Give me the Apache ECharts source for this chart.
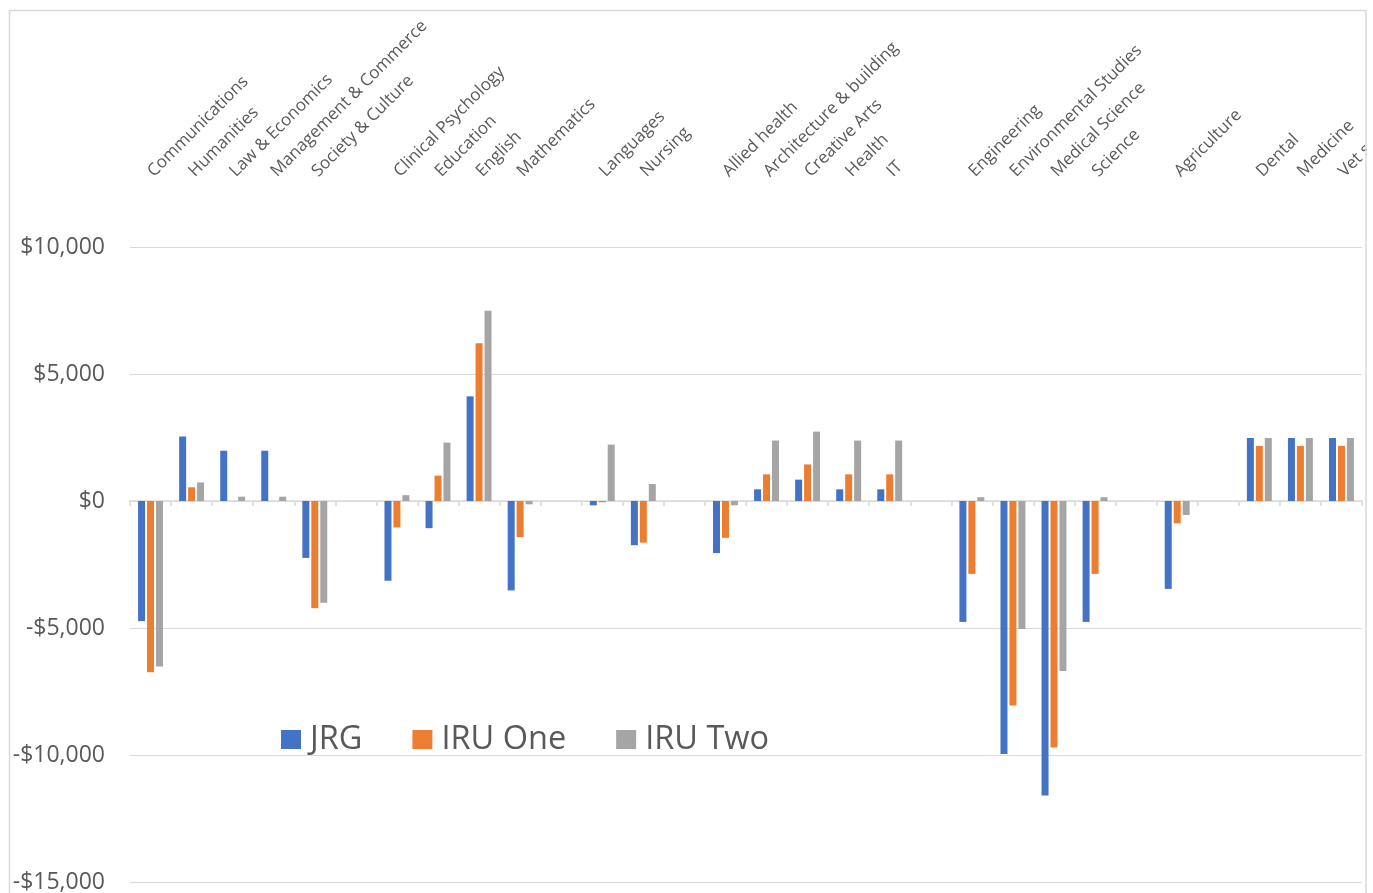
<!DOCTYPE html>
<html>
<head>
<meta charset="utf-8">
<script src="https://cdn.jsdelivr.net/npm/echarts@6/dist/echarts.min.js"></script>
<style>
html,body{margin:0;padding:0;background:#fff;overflow:hidden;}
#chart{position:absolute;left:0;top:0;width:1367px;height:893px;}
</style>
</head>
<body>
<div id="chart"></div>
<script>
const categories = [
  'Communications','Humanities','Law & Economics','Management & Commerce','Society & Culture','',
  'Clinical Psychology','Education','English','Mathematics','',
  'Languages','Nursing','',
  'Allied health','Architecture & building','Creative Arts','Health','IT','',
  'Engineering','Environmental Studies','Medical Science','Science','',
  'Agriculture','',
  'Dental','Medicine','Vet science'
];
const jrg = [
  -4730, 2540, 1980, 1980, -2240, null,
  -3140, -1070, 4120, -3520, null,
  -170, -1740, null,
  -2050, 460, 840, 460, 460, null,
  -4760, -9960, -11590, -4760, null,
  -3460, null,
  2480, 2480, 2480
];
const iruOne = [
  -6740, 540, 0, 0, -4220, null,
  -1040, 1000, 6210, -1420, null,
  -50, -1640, null,
  -1450, 1050, 1440, 1050, 1050, null,
  -2870, -8050, -9700, -2870, null,
  -880, null,
  2170, 2170, 2170
];
const iruTwo = [
  -6520, 730, 170, 170, -4010, null,
  230, 2300, 7490, -130, null,
  2220, 670, null,
  -170, 2380, 2730, 2380, 2380, null,
  150, -5040, -6690, 150, null,
  -550, null,
  2480, 2480, 2480
];
const yTicks = { min: -15000, max: 10000, interval: 5000 };

const FONT = '"Open Sans", "DejaVu Sans", sans-serif';
const TXT = '#595959';
const GRID = '#d9d9d9';

function money(v) {
  const s = Math.abs(v).toLocaleString('en-US');
  return (v < 0 ? '-$' : '$') + s;
}

const chart = echarts.init(document.getElementById('chart'), null, { renderer: 'canvas' });
const barStyle = { barWidth: 7, barGap: '28%' };
chart.setOption({
  animation: false,
  backgroundColor: '#fff',
  textStyle: { fontFamily: FONT },
  graphic: [{
    type: 'rect',
    shape: { x: 9.5, y: 10.5, width: 1356.5, height: 920 },
    style: { fill: 'none', stroke: GRID, lineWidth: 1.5 },
    z: 100
  }],
  legend: {
    left: 281, top: 723, padding: 0,
    itemWidth: 20, itemHeight: 19, itemGap: 50,
    icon: 'rect',
    textStyle: { color: TXT, fontSize: 32.5, fontFamily: FONT, padding: [0, 0, 0, 4] },
    data: ['JRG', 'IRU One', 'IRU Two']
  },
  grid: { left: 130, right: 5, top: 247, bottom: 11, containLabel: false, outerBoundsMode: 'none' },
  xAxis: [{
    type: 'category',
    position: 'top',
    offset: 70,
    data: categories,
    axisLine: { show: false, onZero: false },
    axisTick: { show: false },
    axisLabel: { interval: 0, rotate: -45, margin: 3, color: TXT, fontSize: 17, fontFamily: FONT },
    splitLine: { show: false }
  }, {
    type: 'category',
    position: 'bottom',
    data: categories,
    axisLine: { show: true, onZero: true, lineStyle: { color: GRID, width: 1.5 } },
    axisTick: { show: true, length: 5, lineStyle: { color: GRID, width: 1.5 }, interval: 0 },
    axisLabel: { show: false },
    splitLine: { show: false }
  }],
  yAxis: {
    type: 'value',
    min: yTicks.min, max: yTicks.max, interval: yTicks.interval,
    axisLine: { show: false },
    axisTick: { show: false },
    axisLabel: { color: TXT, fontSize: 23, fontFamily: FONT, margin: 25, formatter: money },
    splitLine: { lineStyle: { color: GRID, width: 1.2 } }
  },
  series: [
    Object.assign({ name: 'JRG', type: 'bar', xAxisIndex: 0, data: jrg, itemStyle: { color: '#4472C4' } }, barStyle),
    Object.assign({ name: 'IRU One', type: 'bar', xAxisIndex: 0, data: iruOne, itemStyle: { color: '#ED7D31' } }, barStyle),
    Object.assign({ name: 'IRU Two', type: 'bar', xAxisIndex: 0, data: iruTwo, itemStyle: { color: '#A5A5A5' } }, barStyle)
  ]
});
</script>
</body>
</html>
